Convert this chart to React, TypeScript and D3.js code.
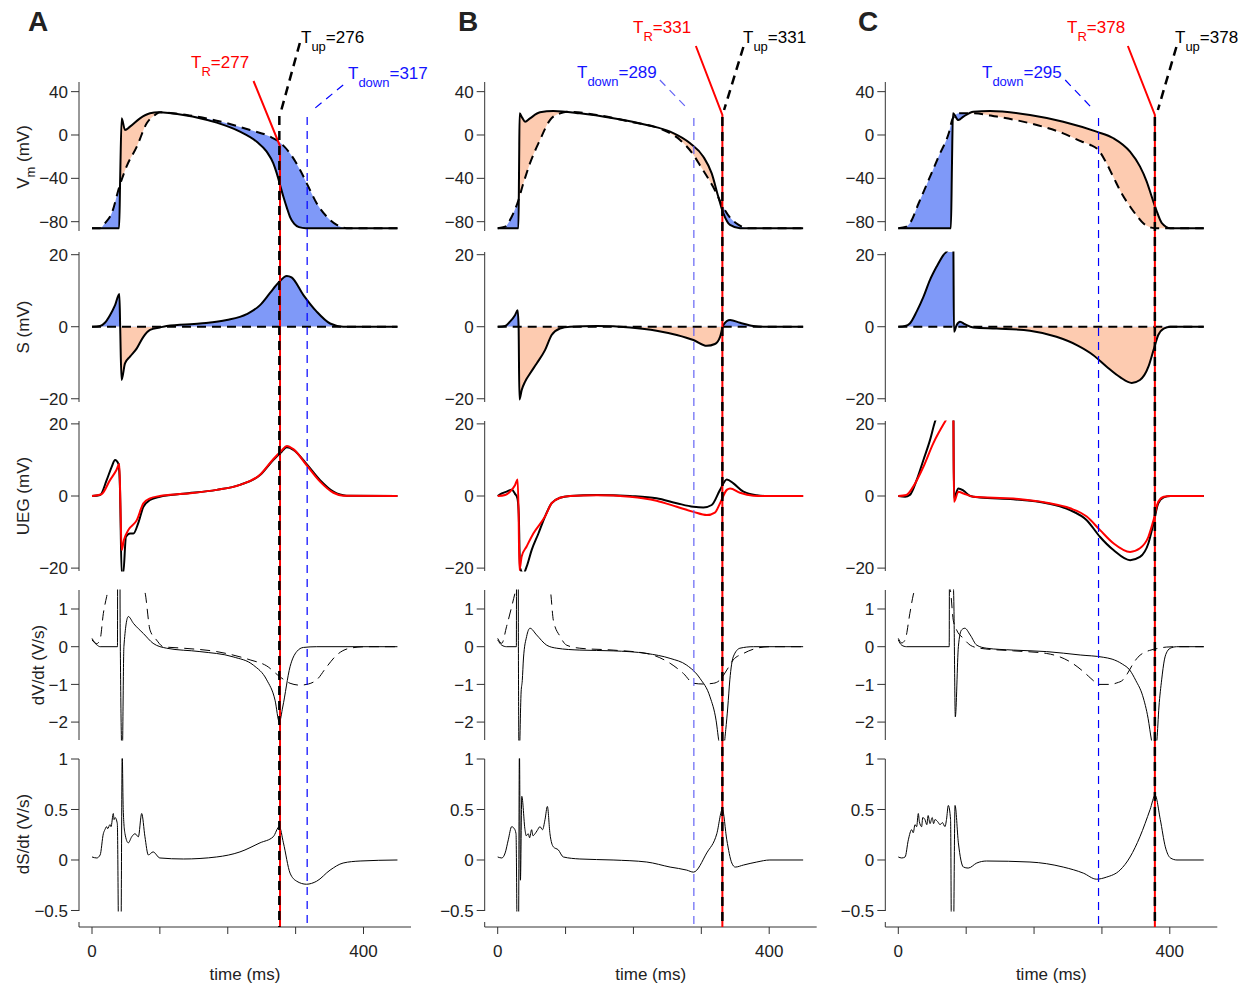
import React from "react";
import * as d3 from "d3";

type Pt = [number, number];

// ---------- column A (time ms, value) ----------
const vmA: Pt[] = [[0,-86],[40,-86],[41.5,-40],[43.7,15.4],[48.6,4.6],[56,7.7],[70.7,15.4],[85.5,20],[97.8,20.9],[134.6,18.5],[183.7,11.4],[218,3.1],[242.7,-6.2],[257.4,-15.4],[267,-26],[272,-35],[277,-46],[282,-57],[287,-67],[292,-76],[298,-82],[305,-85],[315,-86],[450,-86]];
const vmRefA: Pt[] = [[0,-86],[12,-86],[19,-81.5],[29,-72.3],[40.3,-47.7],[51,-29],[66,-10.8],[80.6,10.8],[92.9,18.5],[100,20.9],[139.5,18.5],[183.7,13.2],[232.9,4.6],[262.3,-1.5],[277,-7],[291.8,-17],[306.6,-32.3],[318.8,-47.7],[331,-63],[345.9,-75.4],[360.6,-83],[375,-86],[450,-86]];
const sA: Pt[] = [[0,0],[12,0.2],[19,1.1],[26.5,3.2],[34,6],[40.3,9.1],[41.5,0],[43.5,-14.8],[48.6,-10.2],[56,-8.3],[66,-6],[75.7,-2.8],[85.5,-0.9],[100,-0.2],[110,0.2],[159,0.9],[198.5,1.85],[228,3.5],[247.6,6],[262,9.3],[274.6,12.2],[287,14.1],[294,13.7],[311.5,8.8],[331,4.2],[350.8,0.9],[370,0],[450,0]];
const uegKA: Pt[] = [[0,0],[12,0.3],[21.6,4.4],[29,8.1],[34,10],[39,8.9],[41.3,1.7],[43.7,-21.5],[46,-21.5],[50,-11.3],[56,-10.4],[61,-10.4],[68,-7.6],[75.7,-3],[85.5,-1.1],[100,-0.2],[134.6,0.6],[183.7,1.7],[218,3.1],[247.6,5.8],[267,10],[279.5,12.3],[287,13.5],[296.7,12.8],[316,8.9],[336,4.4],[355.7,1.2],[375,0.1],[450,0]];
const uegRA: Pt[] = [[0,0],[14,0.5],[26.5,4.4],[36,7.2],[40.3,8.9],[41.8,-2],[43.7,-15],[47,-12.2],[53.6,-9.4],[66,-6.7],[75.7,-2],[85.5,-0.65],[100,0],[134.6,0.6],[183.7,1.7],[218,3.1],[247.6,5.9],[267,10.2],[279.5,12.6],[287,13.9],[296.7,13],[316,8.6],[336,4],[355.7,0.9],[370,0.1],[450,0]];
const dvA: Pt[] = [[0,0.18],[7,0.05],[12,0],[37.5,0],[39,40],[41.5,0.5],[44.5,-3],[47,0],[53.5,0.8],[61,0.62],[75.7,0.35],[90,0.09],[110,-0.04],[159,-0.13],[208,-0.27],[237.8,-0.49],[257.4,-0.88],[269.7,-1.42],[276,-2],[281,-1.6],[291.8,-0.53],[301.6,-0.13],[311.5,-0.02],[331,0],[450,0]];
const dvRefA: Pt[] = [[0,0.22],[7,0.08],[12,0.2],[16.7,0.88],[21.6,1.33],[25,1.6],[40,1.8],[60,1.7],[75,1.6],[78,1.45],[85.5,0.44],[95,0.18],[105,0],[134.6,-0.04],[183.7,-0.13],[233,-0.35],[257.4,-0.51],[277,-0.8],[291.8,-0.97],[306.6,-1.02],[318.8,-0.99],[331,-0.88],[345.9,-0.53],[360.6,-0.22],[380,-0.04],[404.8,0],[450,0]];
const dsA: Pt[] = [[0,0.03],[7,0.02],[12,0.05],[16.7,0.26],[19,0.3],[21.6,0.33],[23,0.31],[26.5,0.35],[28,0.33],[31.4,0.46],[32.5,0.4],[34,0.42],[37.3,0.36],[39.5,-0.9],[42.5,-0.9],[44.5,1.05],[46,0.5],[48.6,0.26],[53.5,0.17],[58.5,0.23],[63.4,0.26],[68.3,0.23],[73.2,0.46],[78,0.23],[83,0.05],[90,0.08],[100,0.02],[134.6,0.01],[183.7,0.03],[218,0.08],[247.6,0.17],[267,0.23],[276,0.33],[282,0.17],[291.8,-0.13],[301.6,-0.21],[316,-0.24],[331,-0.21],[350.8,-0.1],[370,-0.03],[395,-0.01],[450,0]];

// ---------- column B ----------
const vmB: Pt[] = [[0,-86],[30.5,-86],[31.5,-30],[32.3,20],[36,16],[40.3,12.3],[47.6,15.4],[62.3,20.9],[82,22.2],[121,20],[170.4,15.4],[219.6,9.2],[254,3.1],[283.5,-7.7],[303,-20],[315.3,-35.4],[325,-57],[332.5,-72.3],[342.3,-83],[357,-86],[450,-86]];
const vmRefB: Pt[] = [[0,-86],[11,-84.6],[20.6,-75.4],[29,-63],[37.8,-44.6],[47.6,-26],[62.3,-4.6],[77,13.8],[92,20],[102,21.5],[146,18.5],[195,12.3],[244,4.6],[268.7,-4.6],[288,-18],[300,-30],[310,-40],[320,-51],[330,-64],[342,-76],[355,-83],[367,-86],[450,-86]];
const sB: Pt[] = [[0,0],[11,0.2],[18,1.4],[25.5,3.2],[29.4,4.6],[30.8,0],[32,-20.2],[35.3,-17.6],[40.2,-15.3],[47.6,-13],[57.4,-10.2],[69.7,-6.5],[79.5,-2.3],[91.8,-0.5],[106.6,0],[146,0.2],[195,-0.2],[234,-1.1],[263.8,-2.3],[288.4,-3.7],[308,-5.3],[320,-4.8],[327.6,-2.8],[332.5,0.5],[342.4,1.85],[357,1.1],[376.7,0.2],[391.5,0],[450,0]];
const uegKB: Pt[] = [[0,0],[6,0.7],[13,1.2],[20.6,1.7],[25.5,0.6],[29,-0.6],[31,-5],[33,-20],[38,-21.5],[42.6,-19.6],[50,-15],[60,-10.4],[69.7,-5.7],[79.5,-2],[91.8,-0.5],[106.6,0],[146,0.3],[195,0],[234,-0.65],[263.8,-2],[288.4,-3],[303,-3.2],[315.3,-2.5],[327.6,1.7],[337.5,4.6],[347.3,3.5],[362,1.2],[381.7,0.2],[396.5,0],[450,0]];
const uegRB: Pt[] = [[0,0],[11,0.3],[18,1.2],[25.5,3],[29.4,4.6],[30.8,-5],[32,-20.5],[35.3,-16.8],[42.6,-14],[52.5,-10.4],[69.7,-5.7],[79.5,-2],[91.8,-0.5],[106.6,0],[146,0.2],[195,-0.2],[234,-1.3],[263.8,-3],[288.4,-4.4],[308,-5.3],[320,-4.6],[327.6,-2],[337.5,1.7],[342.4,2.1],[357,0.9],[376.7,0.1],[391.5,0],[450,0]];
const dvB: Pt[] = [[0,0.18],[6,0.04],[13,0],[27.5,0],[29,40],[30.5,0],[31.5,-3],[34.5,-1.2],[36.2,-0.9],[38,-0.3],[42.6,0.27],[47.6,0.49],[57.4,0.31],[72.2,0.04],[87,-0.04],[121,-0.09],[170,-0.11],[219.6,-0.18],[254,-0.31],[278.5,-0.49],[298,-0.84],[312.8,-1.33],[321.7,-1.95],[326.6,-2.6],[331,-2.9],[336,-2.2],[339,-1.6],[342,-0.88],[347,-0.27],[357,-0.04],[376.7,0],[450,0]];
const dvRefB: Pt[] = [[0,0.22],[6,0.09],[13,0.53],[20.6,1.06],[25.5,1.42],[30,1.7],[50,1.8],[70,1.7],[77,1.55],[82,0.7],[92,0.27],[101.6,0.04],[121,-0.04],[170,-0.09],[219.6,-0.18],[254,-0.44],[273.6,-0.71],[288.4,-0.97],[303,-0.99],[318,-0.97],[327.6,-0.88],[337.5,-0.62],[347,-0.35],[362,-0.18],[381.7,-0.04],[401,0],[450,0]];
const dsB: Pt[] = [[0,0.03],[6,0.02],[11,0.07],[15.6,0.2],[20.6,0.33],[24.5,0.31],[27,0.26],[29,-0.9],[30.5,-0.9],[32,1.1],[33.5,-0.2],[35.5,0.63],[40.2,0.3],[42,0.24],[45,0.26],[47,0.22],[50,0.3],[52,0.24],[55,0.26],[58,0.29],[62.3,0.33],[66,0.3],[69.7,0.4],[73.2,0.53],[77,0.26],[82,0.13],[89.3,0.1],[96.7,0.03],[121,0.01],[170,0],[219.6,-0.02],[254,-0.07],[278.5,-0.1],[288.4,-0.12],[308,0.07],[322.8,0.26],[331,0.5],[337.5,0.2],[344.9,-0.03],[350,-0.07],[362,-0.05],[381.7,-0.02],[401,0],[450,0]];

// ---------- column C ----------
const vmC: Pt[] = [[0,-86],[77.5,-86],[79,-30],[80.5,20],[88.5,13.8],[96,16.9],[110.6,21.5],[135,22.2],[194,18.5],[243,12.3],[292,3.1],[317,-3],[341.4,-15.4],[356,-29],[366,-43],[373.4,-57],[380,-69],[388,-81],[401,-86],[450,-86]];
const vmRefC: Pt[] = [[0,-86],[12,-84.6],[17,-81.5],[30,-63],[45,-41],[60,-19],[75,3],[80,15],[90,20],[110.6,20],[145,17],[194,10.8],[243,1.5],[270,-6],[282.5,-9],[295,-14],[305,-24],[317,-39],[330,-55],[341.4,-66],[352,-75],[361,-81.5],[370,-85],[378,-86],[450,-86]];
const sC: Pt[] = [[0,0],[10,0.2],[17,0.9],[27,4.2],[37,8.3],[46.7,13],[56.5,16.7],[66.4,19.9],[73.7,21.5],[80,24.5],[81,24],[82,-1.4],[86,0.5],[91,1.4],[98,0.7],[110.6,-0.2],[145,-0.5],[194,-1.1],[233,-2.8],[263,-5.1],[287.4,-7.9],[307,-11.1],[326.7,-14],[344,-15.6],[356,-14.8],[368.5,-11.1],[376,-6.5],[383,-2.3],[391,-0.5],[401,0],[450,0]];
const uegKC: Pt[] = [[0,0],[10,-0.2],[17,0.3],[27,4.4],[37,10],[46.7,15.5],[54,20.6],[65,25],[80,30],[81,28],[82,-0.5],[88.5,2.1],[96,1.5],[106,0],[120,-0.4],[169.5,-0.9],[218.6,-2],[253,-3.9],[277.6,-6.7],[297,-11.3],[317,-15],[341.5,-17.8],[356,-16.9],[368.5,-13.1],[376,-7.6],[383,-2],[391,-0.4],[401,0],[450,0]];
const uegRC: Pt[] = [[0,0],[12,0.3],[22,2.6],[37,8.1],[51.5,14.6],[68.8,20.6],[80,24],[81,23],[82,-1.6],[88.5,1.2],[96,0.7],[110.6,-0.2],[169.5,-0.7],[218.6,-1.85],[253,-3.4],[277.6,-5.7],[297,-9.4],[317,-13.1],[341.5,-15.5],[356,-14.5],[368.5,-11.3],[376,-6.7],[383,-1.6],[391,-0.2],[401,0],[450,0]];
const dvC: Pt[] = [[0,0.18],[5,0.04],[12,0],[75,0],[77,40],[79,3],[82,1],[84,-1.86],[88.5,0],[93,0.44],[98,0.49],[106,0.31],[115.6,0.04],[130,-0.04],[169.5,-0.09],[218.6,-0.13],[268,-0.22],[302,-0.28],[315,-0.33],[330,-0.46],[341,-0.62],[350,-0.9],[360,-1.3],[368,-1.9],[373,-2.48],[378,-2.9],[381,-2.48],[384,-1.6],[388,-0.88],[392,-0.35],[396,-0.13],[402,-0.03],[410,0],[450,0]];
const dvRefC: Pt[] = [[0,0.22],[5,0.1],[10,0.18],[17,0.88],[22,1.37],[26,1.6],[45,1.75],[64,1.6],[76,1.55],[81,0.7],[86,0.44],[96,0.22],[106,0.04],[120,-0.04],[169.5,-0.11],[218.6,-0.18],[253,-0.4],[272.6,-0.66],[280,-0.78],[287.4,-0.9],[295,-1],[312,-1],[322,-0.96],[331,-0.88],[338,-0.7],[346,-0.45],[353,-0.28],[360.5,-0.17],[370,-0.1],[381,-0.05],[395,-0.01],[408,0],[450,0]];
const dsC: Pt[] = [[0,0.03],[5,0.02],[10,0.03],[14.8,0.2],[19.7,0.3],[22,0.27],[24.6,0.35],[27,0.33],[29.5,0.46],[31,0.38],[34.4,0.33],[36,0.42],[39.3,0.4],[42,0.35],[44,0.44],[46.7,0.36],[50,0.42],[52,0.36],[54,0.4],[58,0.38],[61.5,0.35],[65,0.37],[68.8,0.33],[71,0.4],[73.7,0.54],[77,0.4],[78.5,-0.9],[81,-0.9],[83.6,0.54],[88.5,0.17],[96,-0.07],[103,-0.08],[115.6,-0.03],[130,-0.01],[194,-0.02],[243,-0.07],[272.6,-0.13],[292,-0.19],[306.6,-0.17],[326.7,-0.1],[341.5,0.03],[356,0.23],[371,0.5],[378.4,0.64],[386,0.4],[393.4,0.13],[401,0.02],[410.6,0],[450,0]];

// ---------- markers ----------
const panelLetters = ["A", "B", "C"];
const tR = [277, 331, 378];
const tUp = [276, 331, 378];
const tDown = [317, 289, 295];
const xTicks = [0, 100, 200, 300, 400];
const xTickLabels = ["0", "", "", "", "400"];

const COLS = [
  { vm: vmA, vmRef: vmRefA, s: sA, uegK: uegKA, uegR: uegRA, dv: dvA, dvRef: dvRefA, ds: dsA },
  { vm: vmB, vmRef: vmRefB, s: sB, uegK: uegKB, uegR: uegRB, dv: dvB, dvRef: dvRefB, ds: dsB },
  { vm: vmC, vmRef: vmRefC, s: sC, uegK: uegKC, uegR: uegRC, dv: dvC, dvRef: dvRefC, ds: dsC },
];

// layout
const COL_X0 = [92, 497.7, 898.3];
const LETTER_X = [28, 458, 858];
const X_SPAN = 271.5; // px for 400 ms
const AXIS_Y = 927;
const ROWS = [
  { top: 82, bottom: 231, lo: -88.6, hi: 48.9, ticks: [-80, -40, 0, 40] },
  { top: 252, bottom: 402, lo: -20.9, hi: 20.75, ticks: [-20, 0, 20] },
  { top: 421, bottom: 571, lo: -20.8, hi: 20.8, ticks: [-20, 0, 20] },
  { top: 590, bottom: 740, lo: -2.475, hi: 1.504, ticks: [-2, -1, 0, 1] },
  { top: 759, bottom: 911, lo: -0.505, hi: 1.0, ticks: [-0.5, 0, 0.5, 1] },
];
const Y_LABELS = [
  { text: "V", sub: "m", rest: " (mV)", x: 29, y: 157 },
  { text: "S (mV)", x: 29, y: 327 },
  { text: "UEG (mV)", x: 29, y: 496 },
  { text: "dV/dt (V/s)", x: 44, y: 665 },
  { text: "dS/dt (V/s)", x: 29, y: 834 },
];
// annotation geometry (pixels, relative to marker x)
const ANNOT = [
  { red: [-26.5, 81, 146], redLbl: [191, 68], up: [20.5, 43, 2, 110, 116], upLbl: [301, 43], blue: [36, 85, 8, 108, 117], blueLbl: [348, 79] },
  { red: [-26.5, 46, 115], redLbl: [633, 33], up: [21, 47, 1.7, 110, 117], upLbl: [743, 43], blue: [-34, 80, -7, 108, 118], blueLbl: [577, 78] },
  { red: [-27, 46, 115], redLbl: [1067, 33], up: [21.5, 47, 3, 110, 117], upLbl: [1175, 43], blue: [-33.3, 80, -6.6, 108, 118], blueLbl: [982, 78] },
];

const FONT = "'Liberation Sans', Arial, Helvetica, sans-serif";
const FS = 17;
const BLUE_FILL = "#7f99f8";
const PEACH_FILL = "#fdcbb0";
const RED = "#ff0000";
const BLUE = "#1414ff";
const BLUE_LINES = ["#0000ff", "#6464f5", "#0000ff"];

const fmt = (v: number) => (v < 0 ? "\u2212" : "") + String(Math.abs(v));

function Column({ ci }: { ci: number }) {
  const c = COLS[ci];
  const x0 = COL_X0[ci];
  const axisX = x0 - 13;
  const x = d3.scaleLinear().domain([0, 400]).range([x0, x0 + X_SPAN]);
  const ys = ROWS.map((r) => d3.scaleLinear().domain([r.lo, r.hi]).range([r.bottom, r.top]));
  const lineFor = (y: d3.ScaleLinear<number, number>) =>
    d3.line<Pt>().x((d) => x(d[0])).y((d) => y(d[1])).curve(d3.curveMonotoneX);
  const areaFor = (y: d3.ScaleLinear<number, number>, base: number) =>
    d3.area<Pt>().x((d) => x(d[0])).y0(base).y1((d) => y(d[1])).curve(d3.curveMonotoneX);

  const yV = ys[0], yS = ys[1], yU = ys[2], yD = ys[3], yDs = ys[4];
  const vTop = ROWS[0].top - 30, vBot = ROWS[0].bottom + 30;
  const z = yS(0);
  const id = (s: string) => `${s}-${ci}`;
  const clipUrl = (ri: number) => `url(#${id("panel" + ri)})`;

  const a = ANNOT[ci];
  const xr = x(tR[ci]), xu = x(tUp[ci]), xd = x(tDown[ci]);
  const tEnd = 450;

  return (
    <g>
      <defs>
        {ROWS.map((r, ri) => (
          <clipPath id={id("panel" + ri)} key={ri}>
            <rect x={axisX} y={r.top - 0.5} width={340} height={r.bottom - r.top + 1} />
          </clipPath>
        ))}
        <clipPath id={id("aboveSolid")}><path d={areaFor(yV, vTop)(c.vm) || ""} /></clipPath>
        <clipPath id={id("belowSolid")}><path d={areaFor(yV, vBot)(c.vm) || ""} /></clipPath>
        <clipPath id={id("sPos")}><rect x={axisX} y={ROWS[1].top} width={340} height={z - ROWS[1].top} /></clipPath>
        <clipPath id={id("sNeg")}><rect x={axisX} y={z} width={340} height={ROWS[1].bottom - z} /></clipPath>
      </defs>

      <text x={LETTER_X[ci]} y={31} fontFamily={FONT} fontWeight="bold" fontSize={28} fill="#222">
        {panelLetters[ci]}
      </text>

      {/* y axes */}
      {ROWS.map((r, ri) => (
        <g key={ri}>
          <line x1={axisX} x2={axisX} y1={r.top} y2={r.bottom} stroke="#333" strokeWidth={1} />
          {r.ticks.map((t) => (
            <g key={t}>
              <line x1={axisX - 8} x2={axisX} y1={ys[ri](t)} y2={ys[ri](t)} stroke="#333" strokeWidth={1} />
              <text x={axisX - 11} y={ys[ri](t)} dy="0.36em" textAnchor="end" fontFamily={FONT} fontSize={FS} fill="#222">
                {fmt(t)}
              </text>
            </g>
          ))}
        </g>
      ))}

      {/* Vm panel */}
      <g clipPath={clipUrl(0)}>
        <path d={areaFor(yV, vBot)(c.vmRef) || ""} fill={BLUE_FILL} clipPath={`url(#${id("aboveSolid")})`} />
        <path d={areaFor(yV, vTop)(c.vmRef) || ""} fill={PEACH_FILL} clipPath={`url(#${id("belowSolid")})`} />
        <path d={lineFor(yV)(c.vm) || ""} fill="none" stroke="#000" strokeWidth={2} />
        <path d={lineFor(yV)(c.vmRef) || ""} fill="none" stroke="#000" strokeWidth={2} strokeDasharray="9 6" />
      </g>

      {/* S panel */}
      <g clipPath={clipUrl(1)}>
        <path d={areaFor(yS, z)(c.s) || ""} fill={BLUE_FILL} clipPath={`url(#${id("sPos")})`} />
        <path d={areaFor(yS, z)(c.s) || ""} fill={PEACH_FILL} clipPath={`url(#${id("sNeg")})`} />
        <line x1={x(0)} x2={x(tEnd)} y1={z} y2={z} stroke="#000" strokeWidth={2} strokeDasharray="9 6" />
        <path d={lineFor(yS)(c.s) || ""} fill="none" stroke="#000" strokeWidth={2} />
      </g>

      {/* UEG panel */}
      <g clipPath={clipUrl(2)}>
        <path d={lineFor(yU)(c.uegK) || ""} fill="none" stroke="#000" strokeWidth={2} />
        <path d={lineFor(yU)(c.uegR) || ""} fill="none" stroke={RED} strokeWidth={2} />
      </g>

      {/* dV/dt panel */}
      <g clipPath={clipUrl(3)}>
        <path d={lineFor(yD)(c.dvRef) || ""} fill="none" stroke="#000" strokeWidth={1} strokeDasharray="10 6" />
        <path d={lineFor(yD)(c.dv) || ""} fill="none" stroke="#000" strokeWidth={1} />
      </g>

      {/* dS/dt panel */}
      <g clipPath={clipUrl(4)}>
        <path d={lineFor(yDs)(c.ds) || ""} fill="none" stroke="#000" strokeWidth={1} />
      </g>

      {/* x axis */}
      <line x1={axisX} x2={axisX + 332} y1={AXIS_Y} y2={AXIS_Y} stroke="#333" strokeWidth={1} />
      <line x1={axisX} x2={axisX} y1={AXIS_Y - 5} y2={AXIS_Y} stroke="#333" strokeWidth={1} />
      {xTicks.map((t, i) => (
        <g key={t}>
          <line x1={x(t)} x2={x(t)} y1={AXIS_Y} y2={AXIS_Y + 7} stroke="#333" strokeWidth={1} />
          {xTickLabels[i] && (
            <text x={x(t)} y={957} textAnchor="middle" fontFamily={FONT} fontSize={FS} fill="#222">
              {xTickLabels[i]}
            </text>
          )}
        </g>
      ))}
      <text x={axisX + 166} y={980} textAnchor="middle" fontFamily={FONT} fontSize={FS} fill="#222">
        time (ms)
      </text>

      {/* T_down marker */}
      <line x1={xd + a.blue[0]} y1={a.blue[1]} x2={xd + a.blue[2]} y2={a.blue[3]} stroke={BLUE_LINES[ci]} strokeWidth={1.2} strokeDasharray="8 6" />
      <line x1={xd} x2={xd} y1={a.blue[4]} y2={925} stroke={BLUE_LINES[ci]} strokeWidth={1.2} strokeDasharray="8 6" />
      <text x={a.blueLbl[0]} y={a.blueLbl[1]} fontFamily={FONT} fontSize={FS} fill={BLUE}>
        T<tspan dy={8} fontSize={13}>down</tspan><tspan dy={-8}>={tDown[ci]}</tspan>
      </text>

      {/* T_R marker */}
      <polyline points={`${xr + a.red[0]},${a.red[1]} ${xr},${a.red[2]} ${xr},${AXIS_Y}`} fill="none" stroke={RED} strokeWidth={2} />
      <text x={a.redLbl[0]} y={a.redLbl[1]} fontFamily={FONT} fontSize={FS} fill={RED}>
        T<tspan dy={8} fontSize={13}>R</tspan><tspan dy={-8}>={tR[ci]}</tspan>
      </text>

      {/* T_up marker */}
      <line x1={xu + a.up[0]} y1={a.up[1]} x2={xu + a.up[2]} y2={a.up[3]} stroke="#000" strokeWidth={2.5} strokeDasharray="9 6" />
      <line x1={xu} x2={xu} y1={a.up[4]} y2={AXIS_Y} stroke="#000" strokeWidth={2.5} strokeDasharray="9 6" />
      <text x={a.upLbl[0]} y={a.upLbl[1]} fontFamily={FONT} fontSize={FS} fill="#000">
        T<tspan dy={8} fontSize={13}>up</tspan><tspan dy={-8}>={tUp[ci]}</tspan>
      </text>
    </g>
  );
}

export default function App() {
  return (
    <svg
      width={1249}
      height={988}
      viewBox="0 0 1249 988"
      style={{ position: "absolute", left: 0, top: 0, background: "#fff" }}
    >
      <rect x={0} y={0} width={1249} height={988} fill="#fff" />
      {COLS.map((_, ci) => (
        <Column ci={ci} key={ci} />
      ))}
      {Y_LABELS.map((l, i) => (
        <text
          key={i}
          transform={`translate(${l.x},${l.y}) rotate(-90)`}
          textAnchor="middle"
          fontFamily={FONT}
          fontSize={FS}
          fill="#222"
        >
          {l.text}
          {l.sub && <tspan dy={6} fontSize={13}>{l.sub}</tspan>}
          {l.rest && <tspan dy={-6}>{l.rest}</tspan>}
        </text>
      ))}
    </svg>
  );
}
